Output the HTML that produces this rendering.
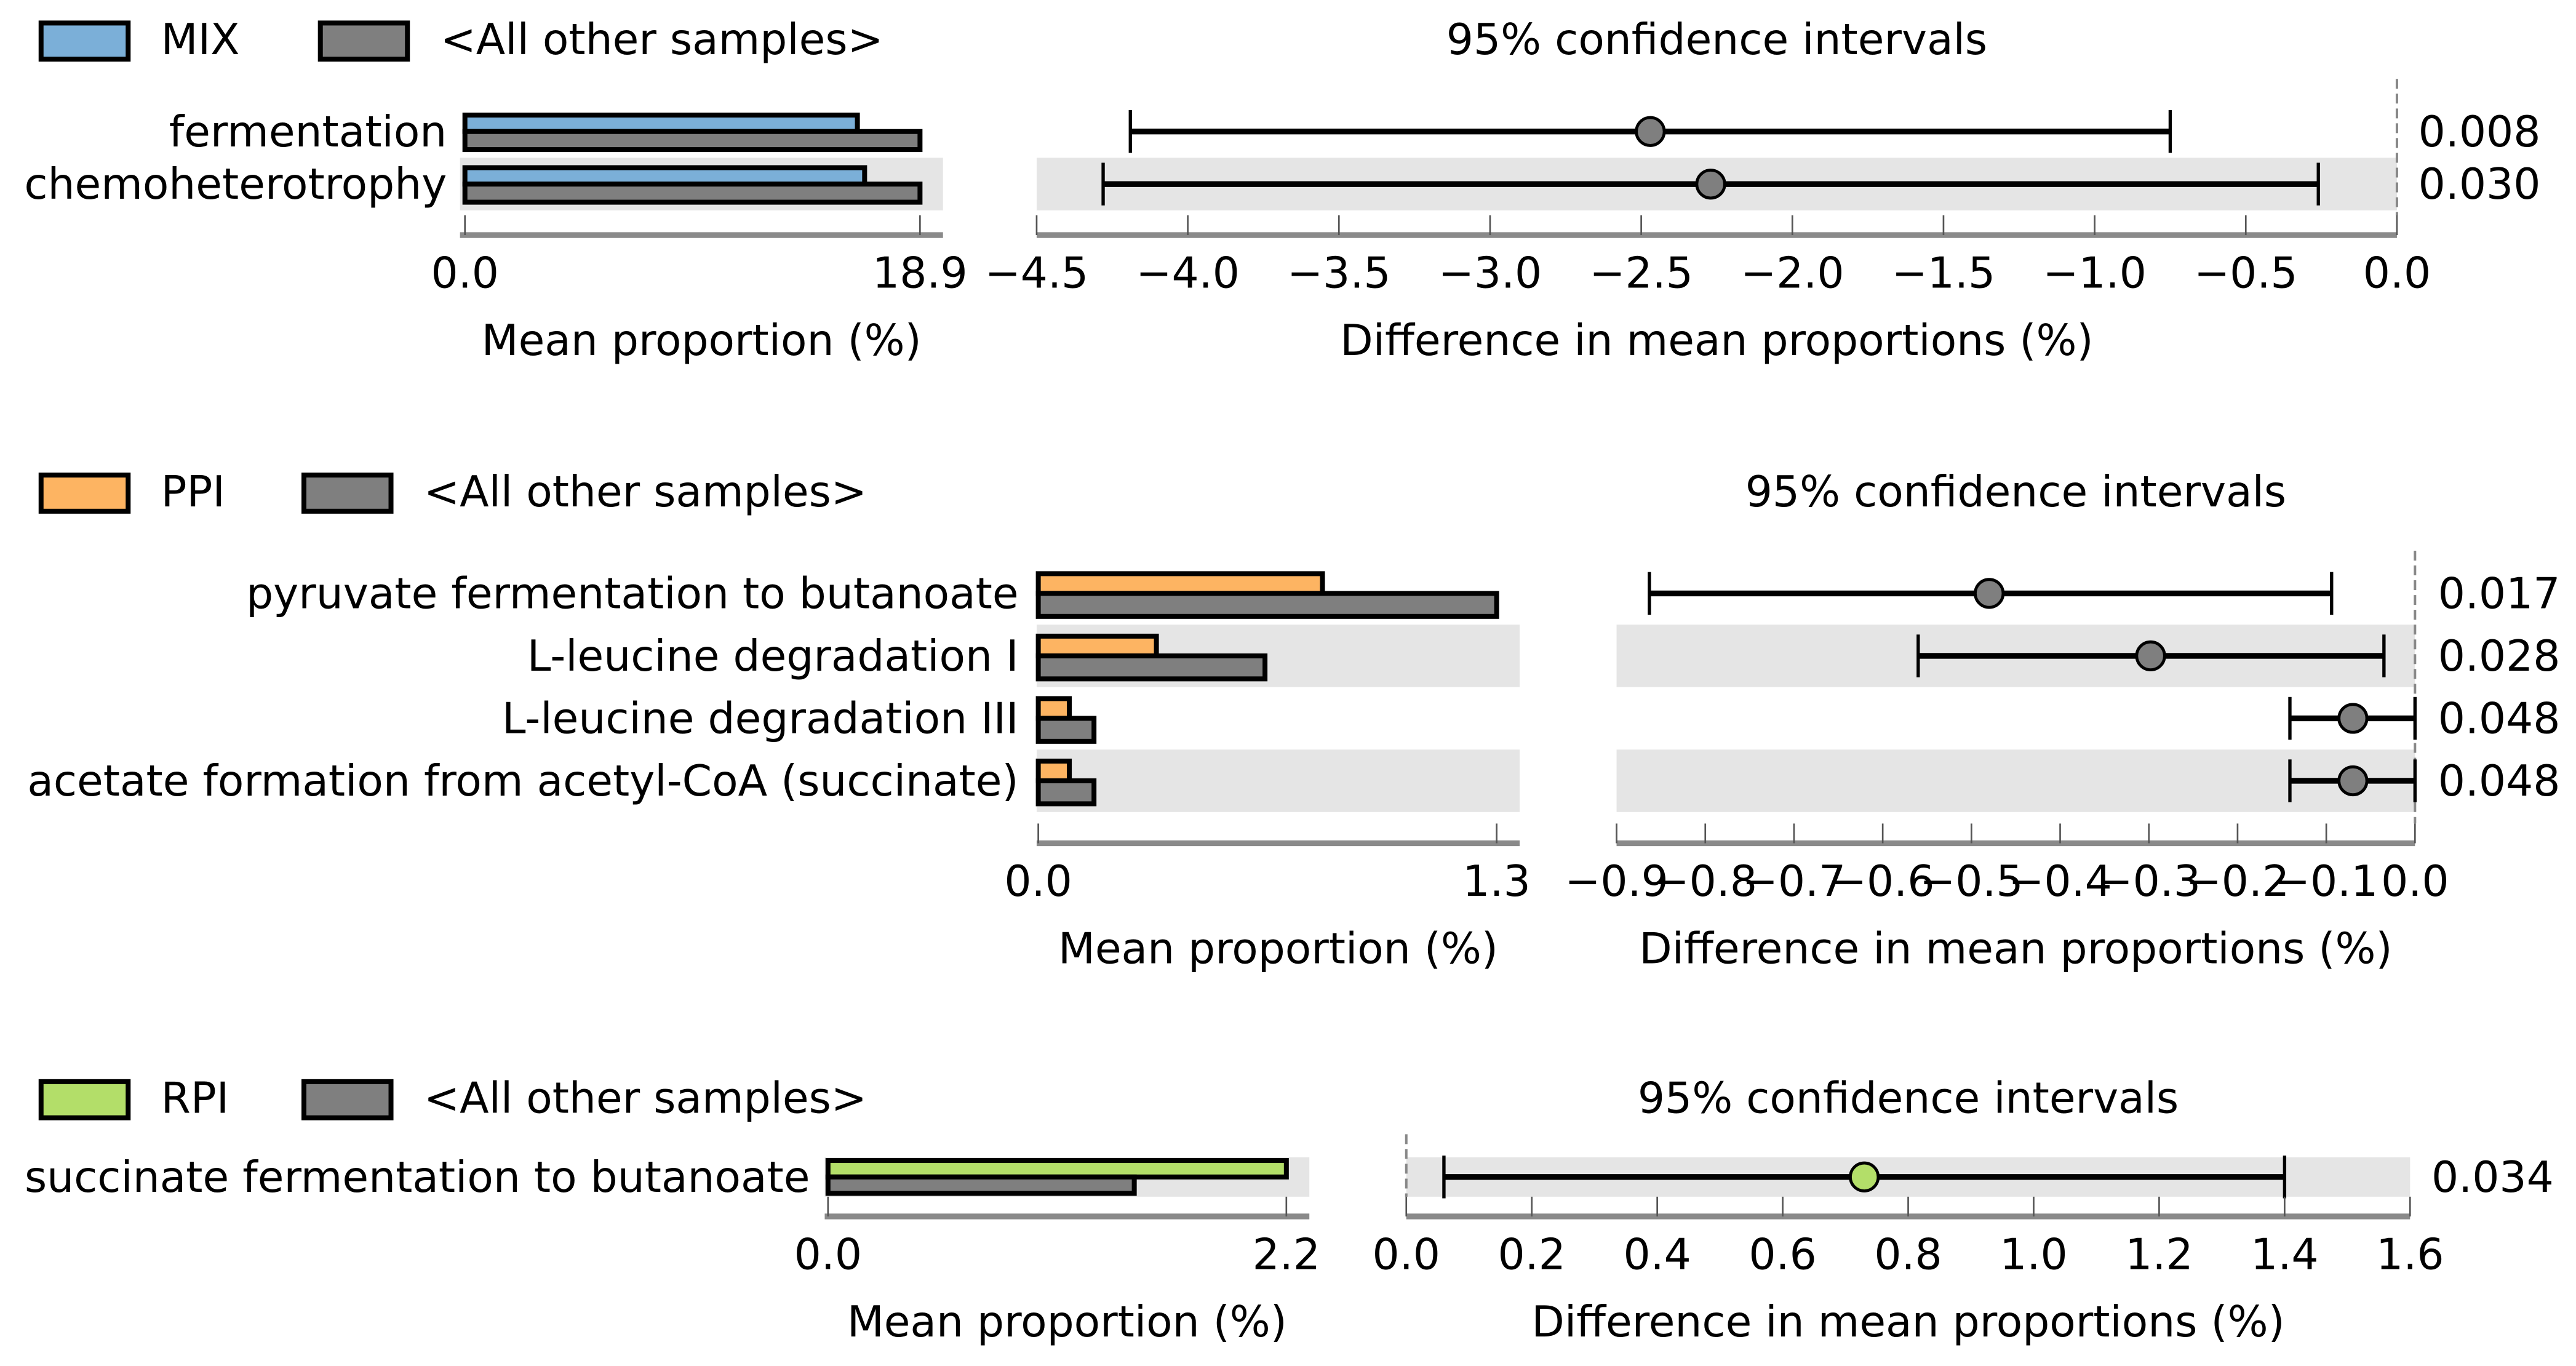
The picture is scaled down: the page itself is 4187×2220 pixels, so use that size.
<!DOCTYPE html>
<html><head><meta charset="utf-8"><style>
html,body{margin:0;padding:0;background:#fff;}
svg{display:block;font-family:"DejaVu Sans","Liberation Sans",sans-serif;}
</style></head><body>
<svg id="chart" xmlns="http://www.w3.org/2000/svg" width="4187" height="2220" viewBox="0 0 1568 831" preserveAspectRatio="none"></svg>
<script>
// ---- Panel 1 (MIX) ----
const p1Categories = ["fermentation", "chemoheterotrophy"];
const p1GroupMeans = [16.3, 16.6];
const p1OtherMeans = [18.9, 18.9];
const p1Diff = [-2.47, -2.27];
const p1Low = [-4.19, -4.28];
const p1High = [-0.75, -0.26];
const p1PValues = ["0.008", "0.030"];
const p1CiTicks = [-4.5, -4.0, -3.5, -3.0, -2.5, -2.0, -1.5, -1.0, -0.5, 0.0];
const p1CiTickLabels = ["\u22124.5","\u22124.0","\u22123.5","\u22123.0","\u22122.5","\u22122.0","\u22121.5","\u22121.0","\u22120.5","0.0"];
// ---- Panel 2 (PPI) ----
const p2Categories = ["pyruvate fermentation to butanoate", "L-leucine degradation I", "L-leucine degradation III", "acetate formation from acetyl-CoA (succinate)"];
const p2GroupMeans = [0.806, 0.335, 0.088, 0.088];
const p2OtherMeans = [1.30, 0.643, 0.158, 0.158];
const p2Diff = [-0.48, -0.298, -0.07, -0.07];
const p2Low = [-0.863, -0.56, -0.141, -0.141];
const p2High = [-0.094, -0.035, 0.0, 0.0];
const p2PValues = ["0.017", "0.028", "0.048", "0.048"];
const p2CiTicks = [-0.9,-0.8,-0.7,-0.6,-0.5,-0.4,-0.3,-0.2,-0.1,0.0];
const p2CiTickLabels = ["\u22120.9","\u22120.8","\u22120.7","\u22120.6","\u22120.5","\u22120.4","\u22120.3","\u22120.2","\u22120.1","0.0"];
// ---- Panel 3 (RPI) ----
const p3Categories = ["succinate fermentation to butanoate"];
const p3GroupMeans = [2.2];
const p3OtherMeans = [1.47];
const p3Diff = [0.73];
const p3Low = [0.06];
const p3High = [1.40];
const p3PValues = ["0.034"];
const p3CiTicks = [0.0,0.2,0.4,0.6,0.8,1.0,1.2,1.4,1.6];
const p3CiTickLabels = ["0.0","0.2","0.4","0.6","0.8","1.0","1.2","1.4","1.6"];

const NS = "http://www.w3.org/2000/svg";
const svg = document.getElementById("chart");
function el(tag, attrs, parent, text) {
  const e = document.createElementNS(NS, tag);
  for (const k in attrs) e.setAttribute(k, attrs[k]);
  if (text !== undefined) e.textContent = text;
  (parent || svg).appendChild(e);
  return e;
}
const FS = 26;

function panel(cfg) {
  const g = el("g", {});
  
  
  const lg = el("g", {}, g);
  
  
  const r1 = el("rect", {x:25, y:cfg.legY, width:53, height:22, fill:cfg.color, stroke:"#000", "stroke-width":3}, lg);
  
  
  const t1 = el("text", {x:98, y:cfg.legY+19, "font-size":FS}, lg, cfg.group);
  
  
  const r2 = el("rect", {x:cfg.leg2X, y:cfg.legY, width:53, height:22, fill:"#7f7f7f", stroke:"#000", "stroke-width":3}, lg);
  
  
  const t2 = el("text", {x:cfg.leg2X+73, y:cfg.legY+19, "font-size":FS}, lg, "<All other samples>");
  
  
  const ct = el("text", {x:(cfg.ciX0+cfg.ciX1)/2, y:cfg.legY+19, "font-size":FS, "text-anchor":"middle"}, g, "95% confidence intervals");
  
  

  const bx = v => cfg.barX0 + (v / cfg.barMax) * (cfg.barTickX - cfg.barX0);
  const cx = v => cfg.ciX0 + (v - cfg.ciMin) / (cfg.ciMax - cfg.ciMin) * (cfg.ciX1 - cfg.ciX0);
  const rowC = i => cfg.rowTop + cfg.rowH * (i + 0.5);

  cfg.cats.forEach((c, i) => {
    if (i % 2 === cfg.bandParity) {
      const b1 = el("rect", {x:cfg.barBg0, y:cfg.rowTop+cfg.rowH*i, width:cfg.barBg1-cfg.barBg0, height:cfg.rowH, fill:"#e5e5e5"}, g);
      
      
      const b2 = el("rect", {x:cfg.ciX0, y:cfg.rowTop+cfg.rowH*i, width:cfg.ciX1-cfg.ciX0, height:cfg.rowH, fill:"#e5e5e5"}, g);
      
      
    }
  });
  const zx = cx(0);
  const zl = el("line", {x1:zx, x2:zx, y1:cfg.zeroTop, y2:cfg.axisY-12, stroke:"#888", "stroke-width":1.5, "stroke-dasharray":"6,3"}, g);
  
  

  cfg.cats.forEach((c, i) => {
    const y = rowC(i);
    const lab = el("text", {x:cfg.labelX, y:y+9, "font-size":FS, "text-anchor":"end"}, g, c);
    
    
    const h1 = cfg.barH1, h2 = cfg.barH2;
    const ba = el("rect", {x:bx(0), y:y-h1, width:bx(cfg.gm[i])-bx(0), height:h1, fill:cfg.color, stroke:"#000", "stroke-width":3}, g);
    
    
    const bb = el("rect", {x:bx(0), y:y, width:bx(cfg.om[i])-bx(0), height:h2, fill:"#7f7f7f", stroke:"#000", "stroke-width":3}, g);
    
    
    const eb = el("line", {x1:cx(cfg.lo[i]), x2:cx(cfg.hi[i]), y1:y, y2:y, stroke:"#000", "stroke-width":3.5}, g);
    
    
    [cfg.lo[i], cfg.hi[i]].forEach(v => {
      const cp = el("line", {x1:cx(v), x2:cx(v), y1:y-13, y2:y+13, stroke:"#000", "stroke-width":2}, g);
      
      
    });
    const pt = el("circle", {cx:cx(cfg.d[i]), cy:y, r:8.5, fill:cfg.ptColor, stroke:"#000", "stroke-width":1.8}, g);
    
    
    const pv = el("text", {x:cfg.pX, y:y+9, "font-size":FS}, g, cfg.pv[i]);
    
    
  });

  const bax = el("line", {x1:cfg.barBg0, x2:cfg.barBg1, y1:cfg.axisY, y2:cfg.axisY, stroke:"#8a8a8a", "stroke-width":3.5}, g);
  
  
  [0, cfg.barMax].forEach(v => {
    const tk = el("line", {x1:bx(v), x2:bx(v), y1:cfg.axisY-12, y2:cfg.axisY, stroke:"#555", "stroke-width":1}, g);
    
    
    const tl = el("text", {x:bx(v), y:cfg.axisY+32, "font-size":FS, "text-anchor":"middle"}, g, v.toFixed(1));
    
    
  });
  const bt = el("text", {x:(cfg.barBg0+cfg.barBg1)/2, y:cfg.axisY+73, "font-size":FS, "text-anchor":"middle"}, g, "Mean proportion (%)");
  
  
  const ca = el("line", {x1:cfg.ciX0, x2:cfg.ciX1, y1:cfg.axisY, y2:cfg.axisY, stroke:"#8a8a8a", "stroke-width":3.5}, g);
  
  
  cfg.ticks.forEach((v, i) => {
    const tk = el("line", {x1:cx(v), x2:cx(v), y1:cfg.axisY-12, y2:cfg.axisY, stroke:"#555", "stroke-width":1}, g);
    
    
    const tl = el("text", {x:cx(v), y:cfg.axisY+32, "font-size":FS, "text-anchor":"middle"}, g, cfg.tickLabels[i]);
    
    
  });
  const ctt = el("text", {x:(cfg.ciX0+cfg.ciX1)/2, y:cfg.axisY+73, "font-size":FS, "text-anchor":"middle"}, g, "Difference in mean proportions (%)");
  
  
}

panel({name:"mix", group:"MIX", color:"#7bafd8", ptColor:"#7f7f7f", legY:14, leg2X:195,
  cats:p1Categories, gm:p1GroupMeans, om:p1OtherMeans, d:p1Diff, lo:p1Low, hi:p1High, pv:p1PValues,
  ticks:p1CiTicks, tickLabels:p1CiTickLabels, ciMin:-4.5, ciMax:0.0, ciX0:631, ciX1:1459,
  barX0:283, barTickX:560, barMax:18.9, barBg0:280, barBg1:574,
  rowTop:64, rowH:32, bandParity:1, barH1:10, barH2:11, labelX:272, pX:1472,
  axisY:143, zeroTop:48});
panel({name:"ppi", group:"PPI", color:"#fdb462", ptColor:"#7f7f7f", legY:289, leg2X:185,
  cats:p2Categories, gm:p2GroupMeans, om:p2OtherMeans, d:p2Diff, lo:p2Low, hi:p2High, pv:p2PValues,
  ticks:p2CiTicks, tickLabels:p2CiTickLabels, ciMin:-0.9, ciMax:0.0, ciX0:984, ciX1:1470,
  barX0:632, barTickX:911, barMax:1.3, barBg0:631, barBg1:925,
  rowTop:342, rowH:38, bandParity:1, barH1:12, barH2:14, labelX:620, pX:1484,
  axisY:513, zeroTop:335});
panel({name:"rpi", group:"RPI", color:"#b3de69", ptColor:"#b3de69", legY:658, leg2X:185,
  cats:p3Categories, gm:p3GroupMeans, om:p3OtherMeans, d:p3Diff, lo:p3Low, hi:p3High, pv:p3PValues,
  ticks:p3CiTicks, tickLabels:p3CiTickLabels, ciMin:0.0, ciMax:1.6, ciX0:856, ciX1:1467,
  barX0:504, barTickX:783, barMax:2.2, barBg0:502, barBg1:797,
  rowTop:704, rowH:24, bandParity:0, barH1:10, barH2:10, labelX:493, pX:1480,
  axisY:740, zeroTop:690});
</script>
</body></html>
